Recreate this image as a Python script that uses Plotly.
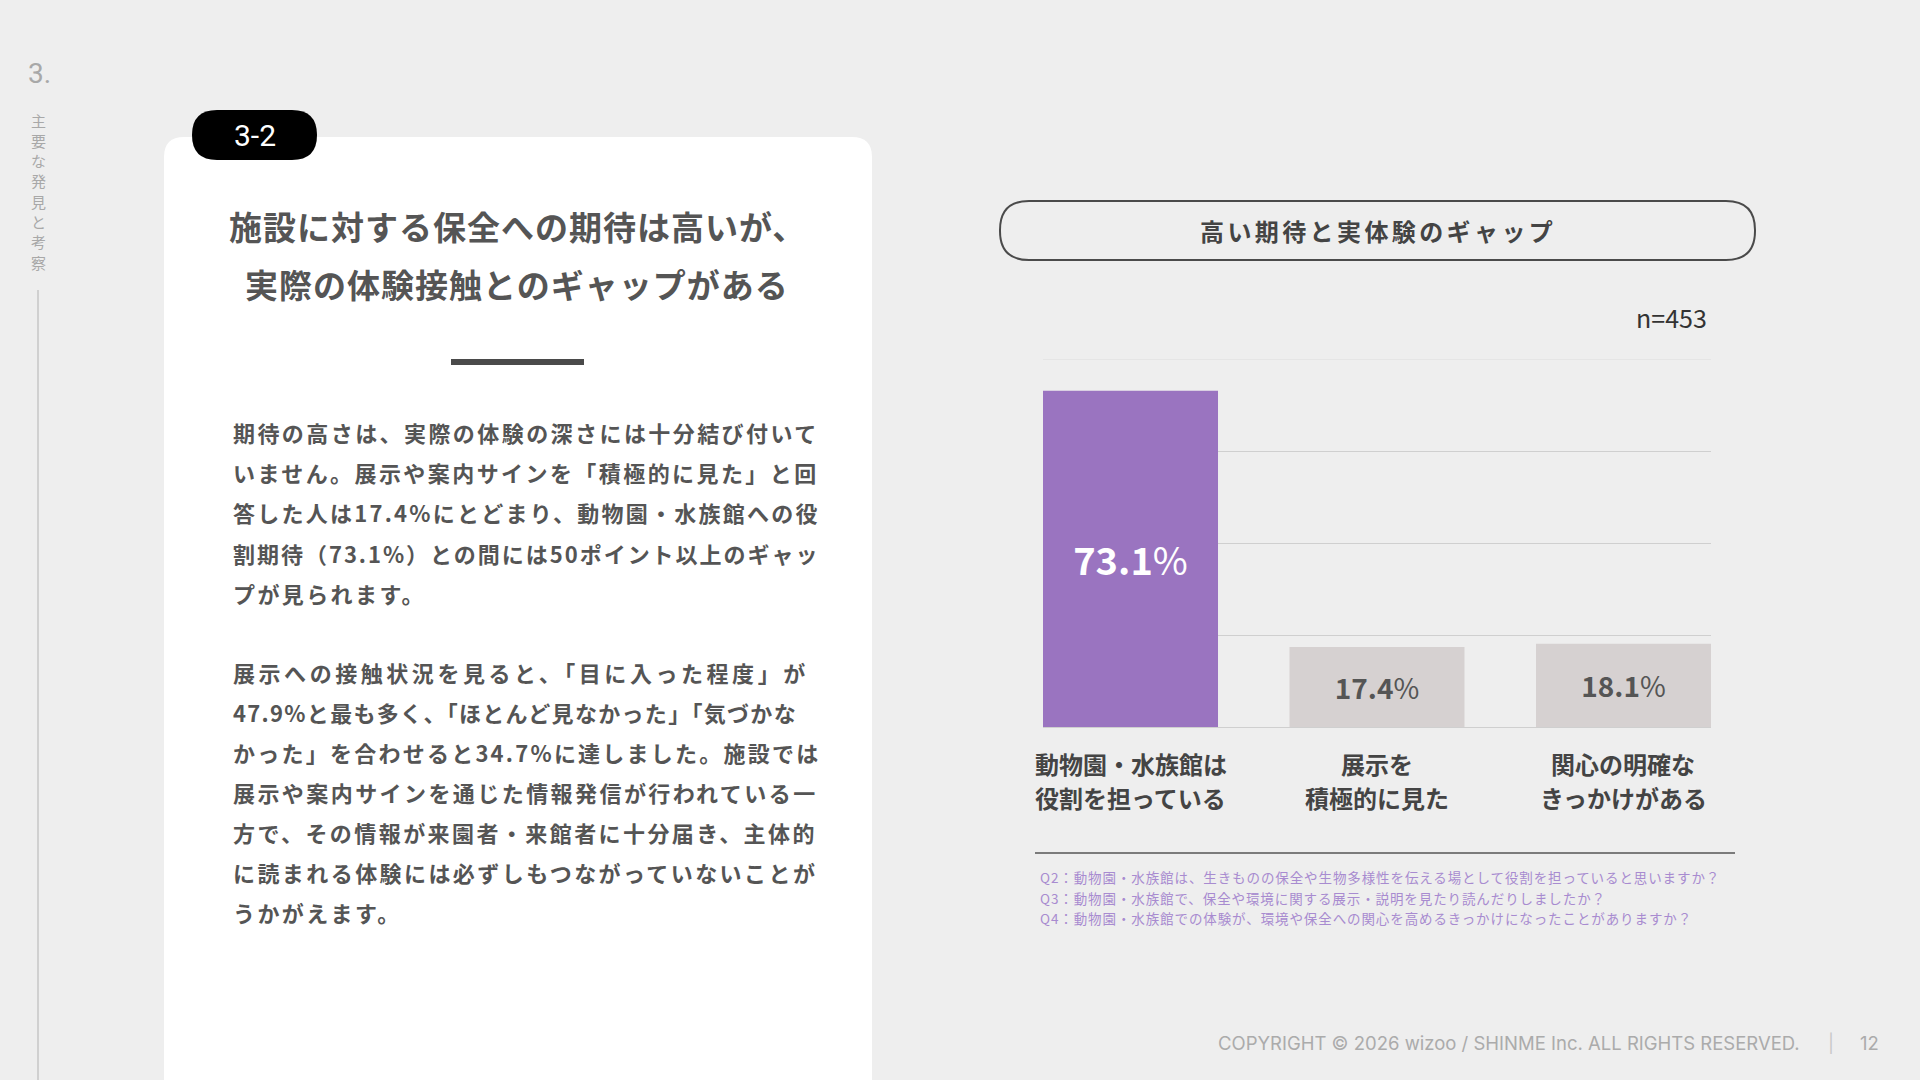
import plotly.graph_objects as go

W, H = 1920, 1080
JP = "Noto Sans CJK JP"

# chart data
categories = ["動物園・水族館は<br>役割を担っている", "展示を<br>積極的に見た", "関心の明確な<br>きっかけがある"]
values = [73.1, 17.4, 18.1]
grid_ticks = [0, 20, 40, 60, 80]
sample_size = "n=453"

questions = [
    "Q2：動物園・水族館は、生きものの保全や生物多様性を伝える場として役割を担っていると思いますか？",
    "Q3：動物園・水族館で、保全や環境に関する展示・説明を見たり読んだりしましたか？",
    "Q4：動物園・水族館での体験が、環境や保全への関心を高めるきっかけになったことがありますか？",
]

title_lines = ["施設に対する保全への期待は高いが、", "実際の体験接触とのギャップがある"]
para1 = [
    "期待の高さは、実際の体験の深さには十分結び付いて",
    "いません。展示や案内サインを「積極的に見た」と回",
    "答した人は17.4%にとどまり、動物園・水族館への役",
    "割期待（73.1%）との間には50ポイント以上のギャッ",
    "プが見られます。",
]
para2 = [
    "展示への接触状況を見ると、「目に入った程度」が",
    "47.9%と最も多く、「ほとんど見なかった」「気づかな",
    "かった」を合わせると34.7%に達しました。施設では",
    "展示や案内サインを通じた情報発信が行われている一",
    "方で、その情報が来園者・来館者に十分届き、主体的",
    "に読まれる体験には必ずしもつながっていないことが",
    "うかがえます。",
]

bar_colors = ["#9a74c0", "#d6d1d1", "#d6d1d1"]
label_colors = ["#ffffff", "#555555", "#555555"]
label_sizes = [38, 28, 28]


def px(x):
    return x / W


def py(y):
    return 1 - y / H


def rounded_rect(x0, y0, x1, y1, r):
    pts = [
        f"M {px(x0 + r)} {py(y0)}",
        f"L {px(x1 - r)} {py(y0)}",
        f"Q {px(x1)} {py(y0)} {px(x1)} {py(y0 + r)}",
        f"L {px(x1)} {py(y1 - r)}",
        f"Q {px(x1)} {py(y1)} {px(x1 - r)} {py(y1)}",
        f"L {px(x0 + r)} {py(y1)}",
        f"Q {px(x0)} {py(y1)} {px(x0)} {py(y1 - r)}",
        f"L {px(x0)} {py(y0 + r)}",
        f"Q {px(x0)} {py(y0)} {px(x0 + r)} {py(y0)}",
        "Z",
    ]
    return " ".join(pts)


def card_path(x0, y0, x1, y1, r):
    pts = [
        f"M {px(x0)} {py(y1)}",
        f"L {px(x0)} {py(y0 + r)}",
        f"Q {px(x0)} {py(y0)} {px(x0 + r)} {py(y0)}",
        f"L {px(x1 - r)} {py(y0)}",
        f"Q {px(x1)} {py(y0)} {px(x1)} {py(y0 + r)}",
        f"L {px(x1)} {py(y1)}",
        "Z",
    ]
    return " ".join(pts)


def glyph_width(s, size):
    w = 0
    for ch in s:
        if ch.isdigit():
            w += 0.6
        elif ch == ".":
            w += 0.3
        elif ch == "%":
            w += 0.9
        else:
            w += 1.0
    return w * size


def justified(s, size, target, full=True, default=2.4):
    # letter spacing so the line fills the column, like the justified source text
    if not full:
        return default
    return (target - glyph_width(s, size)) / (len(s) - 1)


fig = go.Figure()
fig.add_trace(go.Bar(
    x=categories,
    y=values,
    width=0.71,
    marker=dict(color=bar_colors, line=dict(width=0)),
    texttemplate="<b>%{y:.1f}</b>%",
    textposition="inside",
    insidetextanchor="middle",
    textangle=0,
    textfont=dict(family=JP, color=label_colors, size=label_sizes),
    hoverinfo="skip",
    showlegend=False,
))

shapes = [
    # white card
    dict(type="path", xref="paper", yref="paper", path=card_path(164, 137, 872, 1090, 20),
         fillcolor="#ffffff", line=dict(width=0), layer="below"),
    # 3-2 pill
    dict(type="path", xref="paper", yref="paper", path=rounded_rect(192, 110, 317, 160, 25),
         fillcolor="#000000", line=dict(width=0)),
    # divider under title
    dict(type="rect", xref="paper", yref="paper", x0=px(451), x1=px(584), y0=py(365), y1=py(359),
         fillcolor="#4a4a4a", line=dict(width=0)),
    # left vertical rule
    dict(type="line", xref="paper", yref="paper", x0=px(38), x1=px(38), y0=py(290), y1=py(1080),
         line=dict(color="#c6c6c6", width=1.5)),
    # chart heading pill
    dict(type="path", xref="paper", yref="paper", path=rounded_rect(1000, 201, 1755, 260, 29),
         fillcolor="rgba(0,0,0,0)", line=dict(color="#4a4a4a", width=2)),
    # footnote separator
    dict(type="line", xref="paper", yref="paper", x0=px(1035), x1=px(1735), y0=py(853), y1=py(853),
         line=dict(color="#555555", width=1.5)),
    # top gridline sits on the range edge, draw it explicitly
    dict(type="line", xref="x domain", yref="y", x0=0, x1=1, y0=grid_ticks[-1], y1=grid_ticks[-1],
         line=dict(color="#dcdcdc", width=1), layer="below"),
]

ann = []


def text(x, y, s, size, color, anchor="left", weight="normal", family=JP, xref="paper"):
    ann.append(dict(x=px(x) if xref == "paper" else x, y=py(y), xref=xref, yref="paper", text=s,
                    showarrow=False, xanchor=anchor, yanchor="middle",
                    font=dict(family=family, size=size, color=color, weight=weight)))


# left side chapter marker
text(39, 73, "3.", 28, "#a8a8a8", "center", family="Roboto")
for i, ch in enumerate("主要な発見と考察"):
    text(38, 120 + i * 20.3, ch, 15, "#a8a8a8", "center")

text(255, 135, "3-2", 30, "#ffffff", "center", family="Roboto")

for i, line in enumerate(title_lines):
    text(517, 226 + i * 58, f"<span style='letter-spacing:1px'>{line}</span>", 33, "#555555", "center", "bold")

BODY = 22
COL = 584
for i, line in enumerate(para1):
    ls = justified(line, BODY, COL, i < len(para1) - 1)
    text(231, 432 + i * 40.2, f"<span style='letter-spacing:{ls:.2f}px'>{line}</span>", BODY, "#555555", "left", "bold")
for i, line in enumerate(para2):
    ls = justified(line, BODY, COL, i < len(para2) - 1)
    text(231, 672 + i * 40, f"<span style='letter-spacing:{ls:.2f}px'>{line}</span>", BODY, "#555555", "left", "bold")

text(1378, 230, "<span style='letter-spacing:3.4px'>高い期待と実体験のギャップ</span>", 24, "#444444", "center", "bold")
text(1709, 317, sample_size, 25, "#333333", "right")

# category labels under the bars, placed on the category axis
for cat in categories:
    for j, part in enumerate(cat.split("<br>")):
        text(cat, 763 + j * 34, part, 24, "#444444", "center", "bold", xref="x")

for i, q in enumerate(questions):
    text(1038, 877 + i * 20.7, f"<span style='letter-spacing:0.9px'>{q}</span>", 13.5, "#a88bd0", "left")

text(1802, 1043, "COPYRIGHT © 2026 wizoo / SHINME Inc. ALL RIGHTS RESERVED.",
     18.5, "#ababab", "right", family="Inter")
text(1831, 1043, "|", 18, "#c8c8c8", "center", family="Inter")
text(1869, 1043, "12", 18.5, "#ababab", "center", family="Inter")

fig.update_layout(
    width=W,
    height=H,
    margin=dict(l=0, r=0, t=0, b=0),
    paper_bgcolor="#eeeeee",
    plot_bgcolor="rgba(0,0,0,0)",
    shapes=shapes,
    annotations=ann,
    bargap=0.29,
    xaxis=dict(
        domain=[px(1043), px(1711)],
        range=[-0.355, 2.355],
        showgrid=False,
        zeroline=False,
        showline=False,
        ticks="",
        showticklabels=False,
        fixedrange=True,
    ),
    yaxis=dict(
        domain=[py(727), py(359)],
        range=[0, 80],
        tickvals=grid_ticks,
        showticklabels=False,
        showgrid=True,
        gridcolor="#cfcfcf",
        gridwidth=1,
        zeroline=True,
        zerolinecolor="#cfcfcf",
        zerolinewidth=1,
        fixedrange=True,
    ),
)

fig.write_html("out.html", config={"displayModeBar": False},
               post_script="document.body.style.margin='0';document.body.style.overflow='hidden';")
